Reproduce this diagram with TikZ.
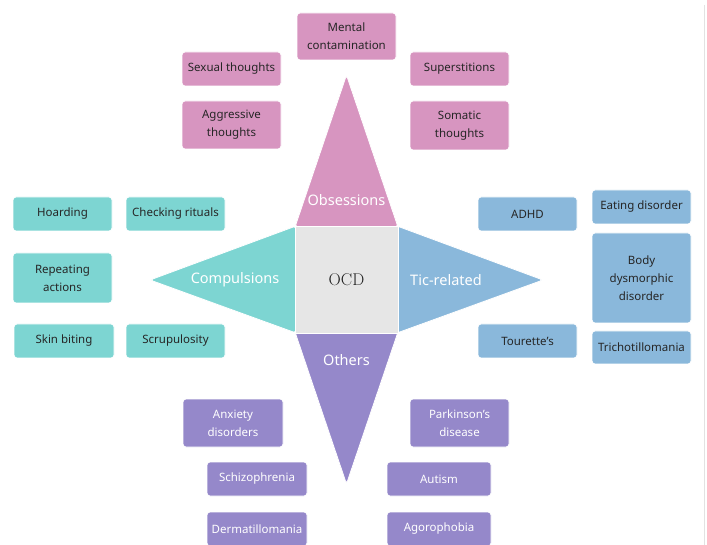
\documentclass[tikz,border=0pt]{standalone}
\usepackage{fontspec}
\newfontfamily\uifont{Noto Sans}
\definecolor{pinkc}{HTML}{D795C0}
\definecolor{tealc}{HTML}{7DD5D2}
\definecolor{bluec}{HTML}{8AB8DB}
\definecolor{purpc}{HTML}{9588CA}
\definecolor{grayc}{HTML}{E6E6E6}
\definecolor{txtc}{HTML}{262626}
\definecolor{edgec}{HTML}{E2E2E2}
\begin{document}
\begin{tikzpicture}[x=1pt,y=-1pt,
  box/.style={rounded corners=3pt, draw=white, line width=0.8pt, inner sep=0pt, align=center,
    minimum width=99pt, minimum height=34pt,
    font=\uifont\fontsize{11.5}{18}\selectfont, text=txtc},
  pbox/.style={box, fill=pinkc},
  tbox/.style={box, fill=tealc},
  bbox/.style={box, fill=bluec},
  obox/.style={box, fill=purpc, text=white},
  tri/.style={rounded corners=3pt, draw=white, line width=0.8pt},
  lab/.style={font=\uifont\fontsize{14.5}{16}\selectfont, text=white, inner sep=0pt}
]
\useasboundingbox (0,0) rectangle (707,545);
\fill[white] (0,0) rectangle (707,545);
\draw[edgec, line width=0.8pt] (704,5) -- (704,545);

% central shapes
\path[tri, fill=pinkc] (295,227) -- (346.5,75) -- (398,227) -- cycle;
\path[tri, fill=tealc] (296,226) -- (150,280) -- (296,333) -- cycle;
\path[tri, fill=bluec] (397,226) -- (543,280) -- (397,333) -- cycle;
\path[tri, fill=purpc] (295,332) -- (346.5,484) -- (398,332) -- cycle;
\node[fill=grayc, draw=white, line width=0.8pt, minimum width=103pt, minimum height=107pt, inner sep=0pt,
  font=\fontsize{17}{18}\selectfont, text=black!88] (ocd) at (346.5,279.5) {OCD};

\node[lab] (obs) at (346.5,200) {Obsessions};
\node[lab] (comp) at (235,280) {Compulsions};
\node[lab] (tic) at (446,280) {Tic-related};
\node[lab] (oth) at (346.5,360) {Others};

% obsessions
\node[pbox, minimum height=47pt] (ment) at (346.5,36.5) {Mental\\contamination};
\node[pbox] (sex) at (231.5,69) {Sexual thoughts};
\node[pbox, minimum height=48pt] (agg) at (231.5,125) {Aggressive\\thoughts};
\node[pbox] (sup) at (459.5,69) {Superstitions};
\node[pbox, minimum height=49pt] (som) at (459.5,125.5) {Somatic\\thoughts};

% compulsions
\node[tbox] (hoard) at (62.5,214) {Hoarding};
\node[tbox] (check) at (175.5,214) {Checking rituals};
\node[tbox, minimum height=50pt] (rep) at (62.5,278) {Repeating\\actions};
\node[tbox, minimum width=100pt] (skin) at (64,341) {Skin biting};
\node[tbox] (scrup) at (175.5,341) {Scrupulosity};

% tic-related
\node[bbox] (adhd) at (527.5,214) {ADHD};
\node[bbox] (eat) at (641.5,207) {Eating disorder};
\node[bbox, minimum height=90pt] (body) at (641.5,278) {Body\\dysmorphic\\disorder};
\node[bbox] (tour) at (527.5,341) {Tourette’s};
\node[bbox, minimum height=33pt] (trich) at (641.5,347.5) {Trichotillomania};

% others
\node[obox, minimum width=100pt, minimum height=48pt] (anx) at (233,423) {Anxiety\\disorders};
\node[obox, minimum height=48pt] (park) at (459.5,423) {Parkinson’s\\disease};
\node[obox, minimum width=100pt] (schiz) at (257,479) {Schizophrenia};
\node[obox, minimum width=104pt] (aut) at (439,479) {Autism};
\node[obox, minimum width=100pt] (derm) at (257,529) {Dermatillomania};
\node[obox, minimum width=104pt] (agor) at (439,529) {Agorophobia};
\end{tikzpicture}
\end{document}
